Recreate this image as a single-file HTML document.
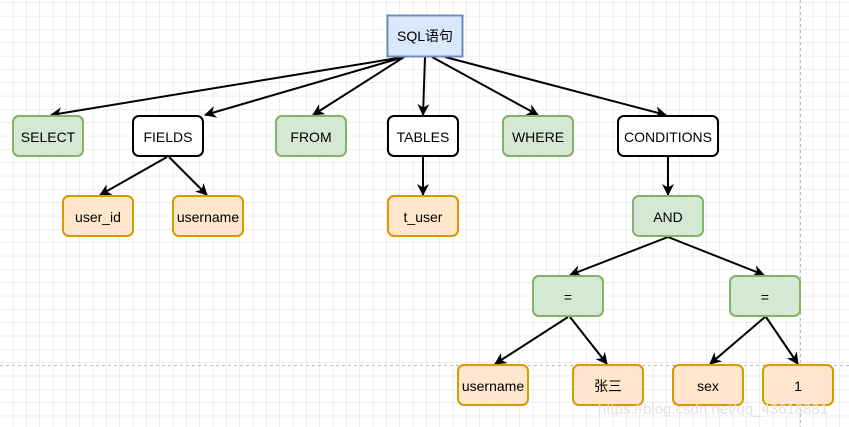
<!DOCTYPE html>
<html><head><meta charset="utf-8"><style>
html,body{margin:0;padding:0;background:#fff;}
svg{display:block;}
text{font-family:"Liberation Sans","Noto Sans CJK SC",sans-serif;font-size:14px;fill:#000;}
</style></head><body>
<svg width="849" height="427" viewBox="0 0 849 427" xmlns="http://www.w3.org/2000/svg">
<defs>
<pattern id="g" width="13.33" height="13.33" patternUnits="userSpaceOnUse" x="0" y="3">
<path d="M13.33 0V13.33M0 13.33H13.33" stroke="#dedede" stroke-width="1" fill="none"/>
</pattern>
<marker id="a" markerWidth="12" markerHeight="12" refX="11" refY="6" orient="auto" markerUnits="userSpaceOnUse">
<path d="M0,0 L12,6 L0,12 L3.5,6 Z" fill="#000"/>
</marker>
</defs>
<rect width="849" height="427" fill="url(#g)"/>
<line x1="0" y1="365.5" x2="849" y2="365.5" stroke="#bbb" stroke-dasharray="3,3"/>
<line x1="800.5" y1="0" x2="800.5" y2="427" stroke="#bbb" stroke-dasharray="3,3"/>
<g stroke="#000" stroke-width="2" fill="none" marker-end="url(#a)">
<line x1="404" y1="57" x2="51" y2="115"/>
<line x1="404" y1="57" x2="205" y2="115"/>
<line x1="404" y1="57" x2="313" y2="115"/>
<line x1="425" y1="57" x2="423" y2="115"/>
<line x1="432" y1="57" x2="538" y2="115"/>
<line x1="445" y1="57" x2="666" y2="115"/>
<line x1="167" y1="157" x2="100" y2="195"/>
<line x1="169" y1="157" x2="207" y2="195"/>
<line x1="423" y1="157" x2="423" y2="195"/>
<line x1="668" y1="157" x2="668" y2="195"/>
<line x1="668" y1="237" x2="570" y2="275"/>
<line x1="668" y1="237" x2="764" y2="275"/>
<line x1="568" y1="317" x2="495" y2="364"/>
<line x1="570" y1="317" x2="607" y2="364"/>
<line x1="765" y1="317" x2="710" y2="364"/>
<line x1="766" y1="317" x2="798" y2="364"/>
</g>
<rect x="387.5" y="15.5" width="75" height="41" fill="#dae8fc" stroke="#6c8ebf" stroke-width="2"/>
<text x="425" y="41" text-anchor="middle">SQL语句</text>
<g stroke-width="2">
<rect x="13" y="116" width="70" height="40" rx="6" fill="#d5e8d4" stroke="#82b366"/>
<rect x="133" y="116" width="70" height="40" rx="6" fill="#fff" stroke="#000"/>
<rect x="276" y="116" width="70" height="40" rx="6" fill="#d5e8d4" stroke="#82b366"/>
<rect x="388" y="116" width="70" height="40" rx="6" fill="#fff" stroke="#000"/>
<rect x="503" y="116" width="70" height="40" rx="6" fill="#d5e8d4" stroke="#82b366"/>
<rect x="618" y="116" width="100" height="40" rx="6" fill="#fff" stroke="#000"/>
<rect x="63" y="196" width="70" height="40" rx="6" fill="#ffe6cc" stroke="#d79b00"/>
<rect x="173" y="196" width="70" height="40" rx="6" fill="#ffe6cc" stroke="#d79b00"/>
<rect x="388" y="196" width="70" height="40" rx="6" fill="#ffe6cc" stroke="#d79b00"/>
<rect x="633" y="196" width="70" height="40" rx="6" fill="#d5e8d4" stroke="#82b366"/>
<rect x="533" y="276" width="70" height="40" rx="6" fill="#d5e8d4" stroke="#82b366"/>
<rect x="730" y="276" width="70" height="40" rx="6" fill="#d5e8d4" stroke="#82b366"/>
<rect x="458" y="365" width="70" height="40" rx="6" fill="#ffe6cc" stroke="#d79b00"/>
<rect x="573" y="365" width="70" height="40" rx="6" fill="#ffe6cc" stroke="#d79b00"/>
<rect x="673" y="365" width="70" height="40" rx="6" fill="#ffe6cc" stroke="#d79b00"/>
<rect x="763" y="365" width="70" height="40" rx="6" fill="#ffe6cc" stroke="#d79b00"/>
</g>
<g text-anchor="middle">
<text x="48" y="142">SELECT</text>
<text x="168" y="142">FIELDS</text>
<text x="311" y="142">FROM</text>
<text x="423" y="142">TABLES</text>
<text x="538" y="142">WHERE</text>
<text x="668" y="142">CONDITIONS</text>
<text x="98" y="222">user_id</text>
<text x="208" y="222">username</text>
<text x="423" y="222">t_user</text>
<text x="668" y="222">AND</text>
<text x="568" y="302">=</text>
<text x="765" y="302">=</text>
<text x="493" y="391">username</text>
<text x="608" y="391">张三</text>
<text x="708" y="391">sex</text>
<text x="798" y="391">1</text>
</g>
<text x="598" y="414" style="font-size:15px;fill:#e2e2e2">https://blog.csdn.net/qq_43618881</text>
</svg>
</body></html>
